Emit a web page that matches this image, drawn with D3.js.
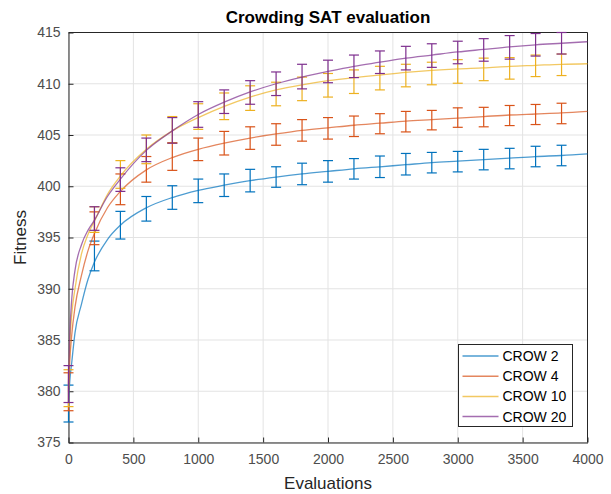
<!DOCTYPE html>
<html>
<head>
<meta charset="utf-8">
<script src="https://cdn.jsdelivr.net/npm/d3@7"></script>
<style>
body { margin: 0; background: #fff; }
text { font-family: "Liberation Sans", Arial, Helvetica, sans-serif; fill: #262626; }
</style>
</head>
<body>
<div id="chart"></div>
<script>
/****************************** data ******************************/
var seriesNames = ["CROW 2", "CROW 4", "CROW 10", "CROW 20"];
var seriesColors = ["#0072BD", "#D95319", "#EDB120", "#7E2F8E"];

// evaluations where error bars are drawn
var barEvals = [0, 200, 400, 600, 800, 1000, 1200, 1400, 1600, 1800, 2000,
	2200, 2400, 2600, 2800, 3000, 3200, 3400, 3600, 3800];

var meanCrow2  = [378.8, 393.2, 396.2, 397.8, 398.9, 399.55, 400.1, 400.55, 400.9, 401.2, 401.45,
	401.7, 401.9, 402.15, 402.3, 402.4, 402.6, 402.7, 402.9, 403.0];
var errCrow2   = [1.8, 1.45, 1.35, 1.2, 1.15, 1.15, 1.1, 1.1, 1.0, 1.05, 1.05,
	1.0, 1.05, 1.05, 1.0, 1.0, 1.0, 1.0, 1.0, 1.0];
var meanCrow4  = [379.95, 395.9, 399.7, 401.65, 402.9, 403.6, 404.2, 404.7, 405.05, 405.45, 405.65,
	405.85, 406.1, 406.3, 406.45, 406.7, 406.75, 406.9, 407.0, 407.1];
var errCrow4   = [1.85, 1.6, 1.5, 1.25, 1.35, 1.1, 1.15, 1.1, 1.05, 1.05, 1.05,
	1.0, 0.98, 1.0, 0.95, 0.95, 0.95, 0.98, 0.98, 1.0];
var meanCrow10 = [380.3, 396.75, 401.15, 403.6, 405.5, 406.8, 407.8, 408.6, 409.0, 409.5, 409.85,
	410.2, 410.55, 410.8, 411.0, 411.2, 411.4, 411.5, 411.75, 411.85];
var errCrow10  = [1.8, 1.25, 1.35, 1.4, 1.3, 1.25, 1.3, 1.2, 1.15, 1.15, 1.15,
	1.15, 1.15, 1.1, 1.1, 1.15, 1.1, 1.05, 1.05, 1.05];
var meanCrow20 = [380.7, 396.85, 400.65, 403.55, 405.45, 407.0, 408.25, 409.15, 410.0, 410.7, 411.2,
	411.7, 412.1, 412.5, 412.75, 413.05, 413.3, 413.55, 413.8, 413.95];
var errCrow20  = [1.8, 1.15, 1.15, 1.15, 1.25, 1.25, 1.15, 1.15, 1.15, 1.2, 1.1,
	1.1, 1.1, 1.15, 1.15, 1.1, 1.1, 1.15, 1.1, 1.05];

// evaluations where the smooth curves are sampled
var lineEvals = [0, 10, 25, 50, 100, 150, 200, 300, 400, 600, 800, 1000, 1200, 1400, 1600,
	1800, 2000, 2200, 2400, 2600, 2800, 3000, 3200, 3400, 3600, 3800, 4000];
var lineCrow2  = [378.8, 381.0, 382.8, 385.7, 388.5, 390.9, 392.6, 394.8, 396.2, 397.9, 398.9, 399.6,
	400.1, 400.55, 400.9, 401.2, 401.45, 401.7, 401.9, 402.1, 402.3, 402.45, 402.6, 402.75, 402.9, 403.0, 403.15];
var lineCrow4  = [379.95, 383.0, 385.5, 388.2, 391.3, 393.7, 395.4, 397.9, 399.5, 401.6, 402.8, 403.6,
	404.2, 404.7, 405.1, 405.45, 405.7, 405.95, 406.15, 406.35, 406.5, 406.65, 406.8, 406.95, 407.05, 407.15, 407.3];
var lineCrow10 = [380.3, 384.5, 387.5, 390.0, 393.4, 395.3, 396.6, 399.2, 401.0, 403.6, 405.4, 406.7,
	407.8, 408.7, 409.4, 409.9, 410.3, 410.6, 410.85, 411.1, 411.3, 411.45, 411.55, 411.7, 411.8, 411.9, 411.95];
var lineCrow20 = [380.7, 385.5, 389.0, 391.8, 394.3, 395.7, 396.7, 399.0, 400.7, 403.5, 405.4, 407.0,
	408.2, 409.2, 410.0, 410.65, 411.2, 411.7, 412.1, 412.5, 412.8, 413.1, 413.35, 413.6, 413.8, 413.95, 414.1];

var xTicks = [0, 500, 1000, 1500, 2000, 2500, 3000, 3500, 4000];
var yTicks = [375, 380, 385, 390, 395, 400, 405, 410, 415];

var means = [meanCrow2, meanCrow4, meanCrow10, meanCrow20];
var errs = [errCrow2, errCrow4, errCrow10, errCrow20];
var lines = [lineCrow2, lineCrow4, lineCrow10, lineCrow20];

/****************************** draw ******************************/
var width = 611, height = 494;
var pLeft = 68.5, pRight = 587.5, pTop = 32.5, pBottom = 442.5;

var svg = d3.select("#chart").append("svg")
	.attr("width", width)
	.attr("height", height);

var x = d3.scaleLinear().domain([0, 4000]).range([pLeft, pRight]);
var y = d3.scaleLinear().domain([375, 415]).range([pBottom, pTop]);

// grid
var grid = svg.append("g").attr("class", "grid");
grid.selectAll(".vgrid").data(xTicks).enter().append("line")
	.attr("x1", function(d){ return x(d); }).attr("x2", function(d){ return x(d); })
	.attr("y1", pTop).attr("y2", pBottom)
	.style("stroke", "#e3e3e3").style("stroke-width", 1);
grid.selectAll(".hgrid").data(yTicks).enter().append("line")
	.attr("y1", function(d){ return y(d); }).attr("y2", function(d){ return y(d); })
	.attr("x1", pLeft).attr("x2", pRight)
	.style("stroke", "#e3e3e3").style("stroke-width", 1);

// axes
var xAxis = svg.append("g")
	.attr("transform", "translate(0," + pBottom + ")")
	.call(d3.axisBottom(x).tickValues(xTicks).tickSizeInner(-5).tickSizeOuter(0).tickPadding(12).tickFormat(d3.format("d")));
var yAxis = svg.append("g")
	.attr("transform", "translate(" + pLeft + ",0)")
	.call(d3.axisLeft(y).tickValues(yTicks).tickSizeInner(-5).tickSizeOuter(0).tickPadding(8).tickFormat(d3.format("d")));

[xAxis, yAxis].forEach(function(a){
	a.select(".domain").style("stroke", "#262626").style("stroke-width", 1);
	a.selectAll(".tick line").style("stroke", "#262626");
	a.selectAll(".tick text").style("font-size", "14px").style("fill", "#4d4d4d")
		.style("font-family", "'Liberation Sans', Arial, sans-serif");
});

// box top & right
svg.append("line").attr("x1", pLeft).attr("x2", pRight).attr("y1", pTop).attr("y2", pTop)
	.style("stroke", "#262626").style("stroke-width", 1);
svg.append("line").attr("x1", pRight).attr("x2", pRight).attr("y1", pTop).attr("y2", pBottom)
	.style("stroke", "#262626").style("stroke-width", 1);

var plot = svg.append("g");

var line = d3.line()
	.x(function(d){ return x(d[0]); })
	.y(function(d){ return y(d[1]); })
	.curve(d3.curveMonotoneX);

var capW = 5;

means.forEach(function(m, i){
	var color = seriesColors[i];
	var g = plot.append("g");

	var pts = lineEvals.map(function(e, j){ return [e, lines[i][j]]; });
	g.append("path")
		.attr("d", line(pts))
		.style("fill", "none")
		.style("stroke", color)
		.style("stroke-opacity", 0.7)
		.style("stroke-width", 1.3);

	var bars = g.selectAll(".bar").data(barEvals).enter().append("g").attr("class", "bar");
	bars.append("line")
		.attr("x1", function(d){ return x(d); }).attr("x2", function(d){ return x(d); })
		.attr("y1", function(d, j){ return y(m[j] - errs[i][j]); })
		.attr("y2", function(d, j){ return y(m[j] + errs[i][j]); });
	bars.append("line")
		.attr("x1", function(d){ return x(d) - capW; }).attr("x2", function(d){ return x(d) + capW; })
		.attr("y1", function(d, j){ return y(m[j] - errs[i][j]); })
		.attr("y2", function(d, j){ return y(m[j] - errs[i][j]); });
	bars.append("line")
		.attr("x1", function(d){ return x(d) - capW; }).attr("x2", function(d){ return x(d) + capW; })
		.attr("y1", function(d, j){ return y(m[j] + errs[i][j]); })
		.attr("y2", function(d, j){ return y(m[j] + errs[i][j]); });
	bars.selectAll("line").style("stroke", color).style("stroke-width", 1.2);
});

// title & labels
svg.append("text")
	.attr("x", (pLeft + pRight) / 2).attr("y", 23)
	.attr("text-anchor", "middle")
	.style("font-size", "17px").style("font-weight", "bold").style("fill", "#000")
	.text("Crowding SAT evaluation");

svg.append("text")
	.attr("x", (pLeft + pRight) / 2).attr("y", 489)
	.attr("text-anchor", "middle")
	.style("font-size", "17px")
	.text("Evaluations");

svg.append("text")
	.attr("transform", "translate(26," + ((pTop + pBottom) / 2) + ") rotate(-90)")
	.attr("text-anchor", "middle")
	.style("font-size", "17px")
	.text("Fitness");

// legend
var lg = svg.append("g").attr("transform", "translate(458.5,344.5)");
lg.append("rect").attr("width", 114).attr("height", 82)
	.style("fill", "#fff").style("stroke", "#262626").style("stroke-width", 1);
seriesNames.forEach(function(name, i){
	var cy = 11.5 + i * 20.2;
	lg.append("line").attr("x1", 4).attr("x2", 40).attr("y1", cy).attr("y2", cy)
		.style("stroke", seriesColors[i]).style("stroke-opacity", 0.7).style("stroke-width", 1.5);
	lg.append("text").attr("x", 44).attr("y", cy + 5)
		.style("font-size", "14px").style("fill", "#000")
		.text(name);
});
</script>
</body>
</html>
